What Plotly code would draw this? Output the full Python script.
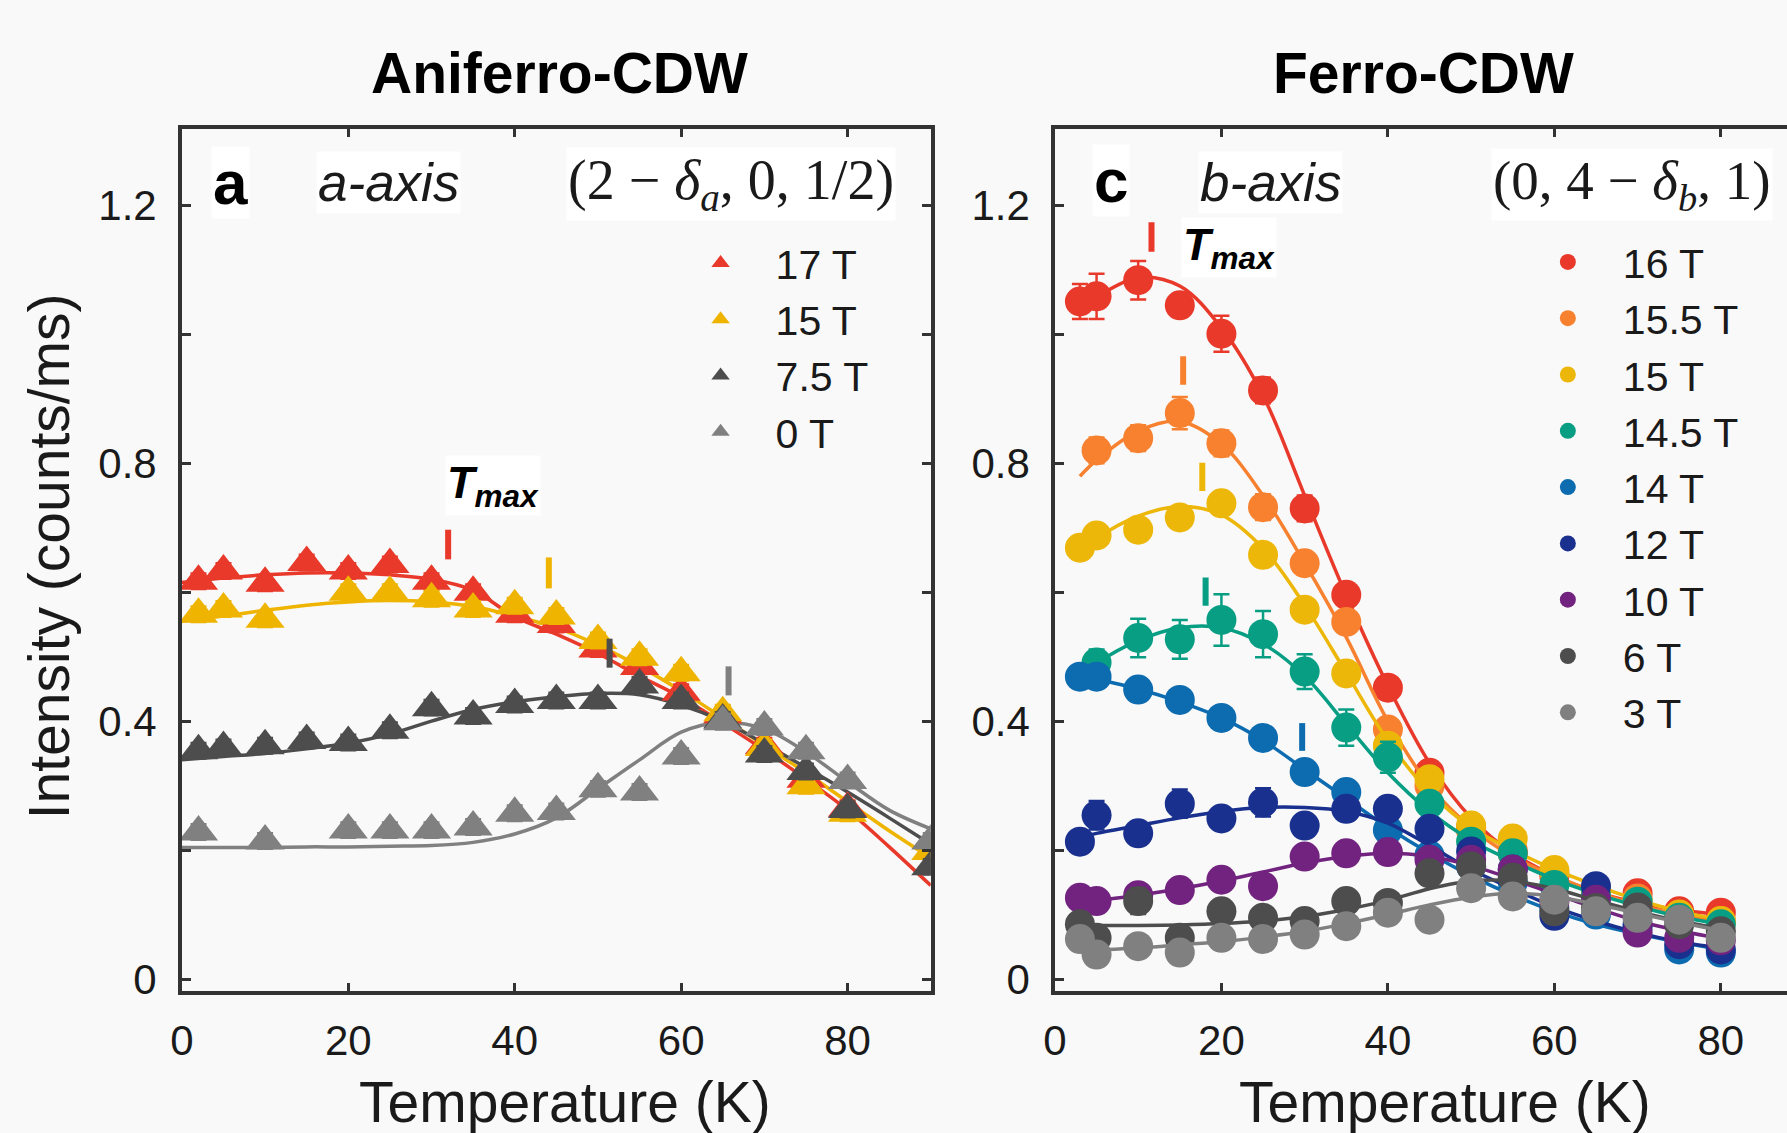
import plotly.graph_objects as go

W, H = 1787, 1133

# ---------------- Panel a (a-axis, triangles) ----------------
a_labels = ["17 T", "15 T", "7.5 T", "0 T"]
a_colors = ["#E8392A", "#EEB400", "#4D4D4D", "#808080"]

a17_T = [2, 5, 10, 15, 20, 25, 30, 35, 40, 45, 50, 55, 60, 65, 70, 75, 80]
a17_I = [0.617, 0.633, 0.614, 0.646, 0.633, 0.643, 0.617, 0.600, 0.566, 0.55, 0.512, 0.485, 0.445, 0.41, 0.362, 0.31, 0.265]
a15_T = [2, 5, 10, 20, 25, 30, 35, 40, 45, 50, 55, 60, 65, 70, 75, 80, 90]
a15_I = [0.566, 0.574, 0.558, 0.600, 0.600, 0.590, 0.574, 0.579, 0.563, 0.525, 0.499, 0.475, 0.413, 0.359, 0.300, 0.257, 0.198]
a75_T = [2, 5, 10, 15, 20, 25, 30, 35, 40, 45, 50, 55, 60, 65, 70, 75, 80, 90]
a75_I = [0.354, 0.359, 0.362, 0.370, 0.367, 0.386, 0.421, 0.408, 0.426, 0.432, 0.432, 0.456, 0.432, 0.402, 0.349, 0.322, 0.263, 0.174]
a0_T = [2, 10, 20, 25, 30, 35, 40, 45, 50, 55, 60, 65, 70, 75, 80, 90]
a0_I = [0.228, 0.214, 0.231, 0.231, 0.231, 0.236, 0.257, 0.260, 0.295, 0.290, 0.346, 0.399, 0.391, 0.354, 0.308, 0.214]
a_err = 0.012

fit_a_T = [0, 5, 10, 15, 20, 25, 30, 35, 40, 45, 50, 55, 60, 65, 70, 75, 80, 85, 90]
fit_a17 = [0.615, 0.622, 0.627, 0.630, 0.630, 0.627, 0.620, 0.603, 0.562, 0.535, 0.505, 0.470, 0.437, 0.397, 0.355, 0.310, 0.262, 0.205, 0.145]
fit_a15 = [0.555, 0.563, 0.572, 0.580, 0.585, 0.587, 0.585, 0.578, 0.563, 0.545, 0.518, 0.485, 0.447, 0.405, 0.362, 0.320, 0.275, 0.230, 0.188]
fit_a75 = [0.340, 0.345, 0.350, 0.357, 0.366, 0.380, 0.400, 0.418, 0.430, 0.438, 0.443, 0.441, 0.425, 0.400, 0.365, 0.328, 0.290, 0.250, 0.209]
fit_a0 = [0.204, 0.204, 0.204, 0.205, 0.205, 0.206, 0.207, 0.212, 0.225, 0.250, 0.295, 0.340, 0.383, 0.398, 0.388, 0.352, 0.306, 0.262, 0.233]

tmax_a_T = [32.0, 44.1, 51.4, 65.7]
tmax_a_lo = [0.651, 0.606, 0.483, 0.440]
tmax_a_hi = [0.697, 0.654, 0.528, 0.485]

# ---------------- Panel c (b-axis, circles) ----------------
c_labels = ["16 T", "15.5 T", "15 T", "14.5 T", "14 T", "12 T", "10 T", "6 T", "3 T"]
c_colors = ["#E8392A", "#F7812F", "#EDB70A", "#089E83", "#0D6BB0", "#19308F", "#72237F", "#4D4D4D", "#808080"]

T_full = [3, 5, 10, 15, 20, 25, 30, 35, 40, 45, 50, 55, 60, 65, 70, 75, 80]
T_from5 = [5, 10, 15, 20, 25, 30, 35, 40, 45, 50, 55, 60, 65, 70, 75, 80]

c16_I = [1.051, 1.059, 1.084, 1.045, 1.001, 0.913, 0.730, 0.596, 0.452, 0.32, 0.235, 0.195, 0.16, 0.14, 0.133, 0.105, 0.103]
c16_E = [0.027, 0.035, 0.03, 0.015, 0.028, 0.02, 0.02, 0.015, 0.015, 0.01, 0.01, 0.01, 0.01, 0.01, 0.01, 0.01, 0.01]
c155_I = [0.820, 0.839, 0.878, 0.831, 0.732, 0.645, 0.554, 0.387, 0.30, 0.23, 0.20, 0.165, 0.135, 0.125, 0.095, 0.09]
c155_E = [0.02, 0.02, 0.025, 0.02, 0.02, 0.015, 0.015, 0.015, 0.01, 0.01, 0.01, 0.01, 0.01, 0.01, 0.01, 0.01]
c15_I = [0.669, 0.688, 0.697, 0.716, 0.738, 0.658, 0.573, 0.474, 0.362, 0.31, 0.238, 0.218, 0.169, 0.14, 0.12, 0.10, 0.09]
c15_E = [0.015] * 17
c145_I = [0.491, 0.529, 0.527, 0.557, 0.535, 0.477, 0.39, 0.344, 0.272, 0.213, 0.195, 0.146, 0.13, 0.12, 0.095, 0.085]
c145_E = [0.02, 0.03, 0.03, 0.04, 0.036, 0.027, 0.028, 0.024, 0.012, 0.01, 0.01, 0.01, 0.01, 0.01, 0.01, 0.01]
c14_I = [0.469, 0.469, 0.449, 0.433, 0.405, 0.374, 0.321, 0.290, 0.231, 0.192, 0.175, 0.15, 0.11, 0.10, 0.08, 0.046, 0.041]
c14_E = [0.012] * 17
c12_I = [0.213, 0.254, 0.226, 0.272, 0.249, 0.274, 0.238, 0.264, 0.264, 0.233, 0.198, 0.17, 0.098, 0.144, 0.085, 0.054, 0.046]
c12_E = [0.015, 0.022, 0.015, 0.022, 0.015, 0.022, 0.015, 0.015, 0.015, 0.01, 0.01, 0.01, 0.01, 0.01, 0.01, 0.01, 0.01]
c10_I = [0.126, 0.121, 0.13, 0.138, 0.154, 0.144, 0.190, 0.195, 0.197, 0.185, 0.185, 0.17, 0.12, 0.123, 0.072, 0.064, 0.06]
c10_E = [0.012] * 17
c6_I = [0.085, 0.064, 0.121, 0.064, 0.105, 0.095, 0.090, 0.121, 0.118, 0.164, 0.175, 0.157, 0.105, 0.11, 0.111, 0.085, 0.074]
c6_E = [0.012, 0.012, 0.02, 0.012, 0.012, 0.012, 0.012, 0.012, 0.012, 0.012, 0.012, 0.012, 0.012, 0.012, 0.012, 0.012, 0.012]
c3_I = [0.062, 0.038, 0.051, 0.041, 0.064, 0.062, 0.069, 0.082, 0.103, 0.092, 0.141, 0.128, 0.123, 0.105, 0.095, 0.092, 0.064]
c3_E = [0.012] * 17

fit_c_T = [3, 5, 10, 15, 20, 25, 30, 35, 40, 45, 50, 55, 60, 65, 70, 75, 80]
fit_c16 = [1.040, 1.058, 1.088, 1.075, 1.010, 0.905, 0.750, 0.595, 0.455, 0.335, 0.250, 0.195, 0.160, 0.135, 0.118, 0.107, 0.100]
fit_c155 = [0.780, 0.805, 0.850, 0.865, 0.830, 0.750, 0.645, 0.530, 0.400, 0.300, 0.235, 0.190, 0.160, 0.135, 0.115, 0.100, 0.090]
fit_c15 = [0.660, 0.683, 0.718, 0.733, 0.720, 0.668, 0.580, 0.475, 0.370, 0.290, 0.235, 0.200, 0.170, 0.145, 0.123, 0.105, 0.092]
fit_c145 = [0.470, 0.490, 0.525, 0.545, 0.545, 0.520, 0.470, 0.395, 0.320, 0.260, 0.215, 0.183, 0.155, 0.132, 0.113, 0.097, 0.085]
fit_c14 = [0.470, 0.465, 0.450, 0.430, 0.405, 0.370, 0.325, 0.280, 0.235, 0.195, 0.160, 0.130, 0.105, 0.085, 0.070, 0.057, 0.046]
fit_c12 = [0.220, 0.226, 0.238, 0.250, 0.260, 0.266, 0.266, 0.260, 0.242, 0.207, 0.170, 0.140, 0.112, 0.090, 0.072, 0.058, 0.048]
fit_c10 = [0.120, 0.122, 0.130, 0.140, 0.152, 0.166, 0.180, 0.190, 0.195, 0.190, 0.176, 0.155, 0.132, 0.110, 0.090, 0.075, 0.063]
fit_c6 = [0.083, 0.083, 0.083, 0.084, 0.086, 0.090, 0.097, 0.108, 0.122, 0.140, 0.152, 0.152, 0.140, 0.122, 0.105, 0.090, 0.078]
fit_c3 = [0.043, 0.045, 0.048, 0.053, 0.058, 0.065, 0.074, 0.086, 0.100, 0.115, 0.127, 0.133, 0.128, 0.116, 0.102, 0.088, 0.075]

tmax_c_T = [11.6, 15.4, 17.7, 18.1, 29.7]
tmax_c_lo = [1.128, 0.922, 0.757, 0.579, 0.354]
tmax_c_hi = [1.174, 0.966, 0.801, 0.623, 0.397]
tmax_c_colors = c_colors[:5]

# ---------------- figure ----------------
SANS = "Liberation Sans, Arial, sans-serif"
SERIF = "Liberation Serif, Times New Roman, serif"
AX = "#333333"
TXT = "#1a1a1a"

fig = go.Figure()

a_series = [(a17_T, a17_I), (a15_T, a15_I), (a75_T, a75_I), (a0_T, a0_I)]
a_fits = [fit_a17, fit_a15, fit_a75, fit_a0]
for i, (lab, col) in enumerate(zip(a_labels, a_colors)):
    fig.add_trace(go.Scatter(x=fit_a_T, y=a_fits[i], mode="lines", line=dict(color=col, width=3.5, shape="spline"),
                             showlegend=False, xaxis="x", yaxis="y", hoverinfo="skip"))
for i, (lab, col) in enumerate(zip(a_labels, a_colors)):
    T, I = a_series[i]
    fig.add_trace(go.Scatter(x=T, y=I, mode="markers", name=lab,
                             marker=dict(symbol="triangle-up", size=34, color=col, line=dict(width=0)),
                             error_y=dict(type="constant", value=a_err, color=col, thickness=2.5, width=8),
                             xaxis="x", yaxis="y", legend="legend", legendgroup="a%d" % i))
for i in range(len(tmax_a_T)):
    fig.add_trace(go.Scatter(x=[tmax_a_T[i], tmax_a_T[i]], y=[tmax_a_lo[i], tmax_a_hi[i]], mode="lines",
                             line=dict(color=a_colors[i], width=6), showlegend=False, xaxis="x", yaxis="y"))

c_data = [
    (T_full, c16_I, c16_E, fit_c16), (T_from5, c155_I, c155_E, fit_c155), (T_full, c15_I, c15_E, fit_c15),
    (T_from5, c145_I, c145_E, fit_c145), (T_full, c14_I, c14_E, fit_c14), (T_full, c12_I, c12_E, fit_c12),
    (T_full, c10_I, c10_E, fit_c10), (T_full, c6_I, c6_E, fit_c6), (T_full, c3_I, c3_E, fit_c3),
]
for i, (lab, col) in enumerate(zip(c_labels, c_colors)):
    T, I, E, F = c_data[i]
    fig.add_trace(go.Scatter(x=fit_c_T, y=F, mode="lines", line=dict(color=col, width=3.5, shape="spline"),
                             showlegend=False, xaxis="x2", yaxis="y2", hoverinfo="skip"))
    fig.add_trace(go.Scatter(x=T, y=I, mode="markers", name=lab,
                             marker=dict(symbol="circle", size=30, color=col, line=dict(width=0)),
                             error_y=dict(type="data", array=E, color=col, thickness=2.5, width=8),
                             xaxis="x2", yaxis="y2", legend="legend2", legendgroup="c%d" % i))
for i in range(len(tmax_c_T)):
    fig.add_trace(go.Scatter(x=[tmax_c_T[i], tmax_c_T[i]], y=[tmax_c_lo[i], tmax_c_hi[i]], mode="lines",
                             line=dict(color=tmax_c_colors[i], width=6), showlegend=False, xaxis="x2", yaxis="y2"))


def px(x, y):
    return x / W, 1 - y / H


ydom = [1 - 1001 / H, 1 - 130 / H]
yt_vals = [0, 0.2, 0.4, 0.6, 0.8, 1.0, 1.2]
yt_text = ["0", "", "0.4", "", "0.8", "", "1.2"]
xt_vals = [0, 20, 40, 60, 80]

axis_common = dict(showline=True, linewidth=3.5, linecolor=AX, ticks="inside", ticklen=9, tickwidth=3,
                   tickcolor=AX, showgrid=False, zeroline=False,
                   tickfont=dict(family=SANS, size=42, color=TXT))

legend_common = dict(xanchor="left", yanchor="top", bgcolor="rgba(0,0,0,0)",
                     font=dict(family=SANS, size=41, color=TXT), itemwidth=100, tracegroupgap=0,
                     itemclick=False)

layout = dict(
    width=W, height=H, margin=dict(l=0, r=0, t=0, b=0),
    paper_bgcolor="#f9f9f9", plot_bgcolor="#f9f9f9",
    xaxis=dict(domain=[171 / W, 925 / W], range=[0, 90], tickvals=xt_vals, mirror="ticks",
               anchor="y", ticklabelstandoff=10, **axis_common),
    yaxis=dict(domain=ydom, range=[-0.019, 1.319], tickvals=yt_vals, ticktext=yt_text, mirror="ticks",
               anchor="x", ticklabelstandoff=13, **axis_common),
    xaxis2=dict(domain=[1050 / W, 1.0], range=[0, 87.95], tickvals=xt_vals, mirror="ticks",
                anchor="y2", ticklabelstandoff=10, **axis_common),
    yaxis2=dict(domain=ydom, range=[-0.019, 1.319], tickvals=yt_vals, ticktext=yt_text, mirror=False,
                anchor="x2", ticklabelstandoff=13, **axis_common),
    legend=dict(x=px(658, 0)[0], y=px(0, 232)[1], **legend_common),
    legend2=dict(x=px(1511, 0)[0], y=px(0, 231)[1], **legend_common),
    showlegend=True,
)
fig.update_layout(**layout)

ann = []


def add_text(text, x, y, size, family=SANS, color=TXT, bg=None, xanchor="center"):
    xp, yp = px(x, y)
    d = dict(text=text, x=xp, y=yp, xref="paper", yref="paper", showarrow=False, xanchor=xanchor,
             yanchor="middle", font=dict(family=family, size=size, color=color))
    if bg:
        d["bgcolor"] = bg
    ann.append(d)


add_text("<b>Aniferro-CDW</b>", 551, 74, 57, color="#000")
add_text("<b>Ferro-CDW</b>", 1421, 74, 57, color="#000")
add_text("Temperature (K)", 557, 1113, 57)
add_text("Temperature (K)", 1443, 1113, 57)
ann.append(dict(text="Intensity (counts/ms)", x=px(37, 0)[0], y=px(0, 562)[1], xref="paper", yref="paper",
                showarrow=False, textangle=-90, xanchor="center", yanchor="middle",
                font=dict(family=SANS, size=57, color=TXT)))
add_text("<b>a</b>", 220, 184, 62, color="#000", bg="white")
add_text("<i>a-axis</i>", 379, 184, 53, bg="white")
add_text("(2 − <i>δ</i><sub><i>a</i></sub>, 0, 1/2)", 724, 186, 56, family=SERIF, bg="white")
add_text("<b>c</b>", 1106, 182, 62, color="#000", bg="white")
add_text("<i>b-axis</i>", 1267, 184, 53, bg="white")
add_text("(0, 4 − <i>δ</i><sub><i>b</i></sub>, 1)", 1631, 186, 55, family=SERIF, bg="white")
add_text("<b><i>T<sub>max</sub></i></b>", 484, 490, 45, color="#000", bg="white")
add_text("<b><i>T<sub>max</sub></i></b>", 1225, 250, 45, color="#000", bg="white")
fig.update_layout(annotations=ann)

fig.write_html("out.html", config={"displayModeBar": False},
               post_script="document.body.style.margin='0';document.body.style.overflow='hidden';")
